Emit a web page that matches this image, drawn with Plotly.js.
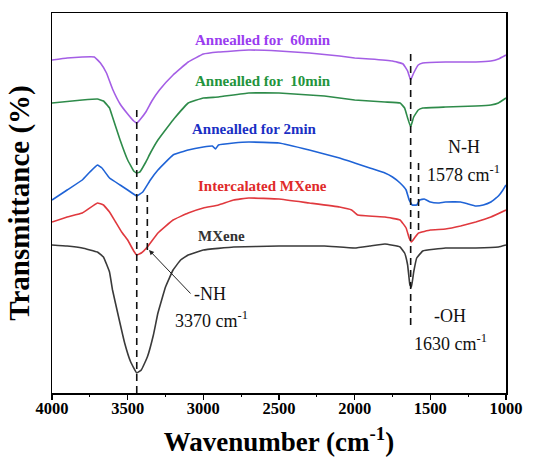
<!DOCTYPE html>
<html><head><meta charset="utf-8">
<script src="https://cdn.plot.ly/plotly-3.0.1.min.js"></script>
<style>body{margin:0;background:#fff}#chart{width:543px;height:457px}</style>
</head><body><div id="chart"></div>
<script>
// Wavenumber (cm-1) and stacked transmittance (arb. units, offset)
const wn60 = [4000,3900,3800,3720,3680,3640,3600,3550,3500,3460,3440,3420,3380,3340,3290,3200,3100,3000,2900,2700,2500,2300,2100,2000,1900,1750,1680,1650,1630,1610,1580,1550,1400,1200,1100,1050,1000];
const t60  = [331,333,334,334,328,318,302,287,277,270,268,271,279,290,301,316,329,337,339,341,340,338,335,333,332,330,327,320,311,318,326,328,329,329,330,332,336];

const wn10 = [4000,3800,3700,3660,3620,3600,3550,3500,3460,3440,3420,3380,3350,3300,3200,3100,3000,2900,2700,2500,2400,2200,2000,1800,1700,1670,1650,1630,1610,1580,1550,1400,1200,1100,1050,1000];
const t10  = [288,291,292,290,283,274,251,231,220,218,219,229,238,251,271,288,293,294,298,298,297,295,291,289,288,283,273,264,274,281,283,284,285,286,288,293];

const wn2 = [4000,3900,3800,3750,3700,3670,3620,3550,3500,3440,3400,3350,3300,3200,3100,3000,2940,2920,2900,2800,2700,2500,2300,2100,2000,1900,1800,1750,1700,1660,1640,1620,1590,1570,1540,1500,1450,1400,1300,1250,1200,1150,1100,1050,1020,1000];
const t2  = [191,201,211,219,226,223,213,206,201,195,199,211,221,236,241,244,245,242,246,248,249,248,241,233,228,223,218,214,208,201,191,186,186,191,192,189,188,189,189,187,185,186,189,195,201,206];

const wnInt = [4000,3900,3800,3700,3660,3620,3580,3540,3500,3460,3440,3410,3370,3300,3200,3100,3000,2900,2800,2700,2500,2300,2100,2020,1980,1800,1700,1660,1640,1625,1600,1578,1500,1400,1300,1200,1100,1000];
const tInt  = [169,174,178,188,186,179,169,159,151,140,136,138,144,158,171,178,183,186,191,193,192,188,184,181,176,174,171,163,153,149,154,158,161,162,165,169,174,181];

const wnMX = [4000,3900,3800,3700,3660,3620,3600,3560,3520,3480,3440,3410,3370,3330,3300,3250,3200,3150,3100,3000,2800,2500,2200,2000,1900,1800,1700,1670,1650,1635,1625,1610,1590,1550,1400,1200,1050,1000];
const tMX  = [146,145,143,139,134,119,101,74,48,29,18,21,34,56,78,104,121,131,136,141,144,145,145,143,145,147,144,138,126,106,104,119,133,140,143,143,144,146];

const seriesNames = ["Annealled for  60min","Annealled for  10min","Annealled for 2min","Intercalated MXene","MXene"];
const lineColors = ["#a45ee5","#2e8b4a","#1f63d6","#e0393e","#3a3a3a"];
const labelColors = ["#9a3cf0","#23943c","#1a2fc4","#e02a2a","#333333"];
const xTickVals = [4000,3500,3000,2500,2000,1500,1000];

// reference band positions
const bandLines = [
  {x:3440, y0:-2,  y1:286},
  {x:3370, y0:141, y1:196},
  {x:1630, y0:66,  y1:338},
  {x:1578, y0:161, y1:228}
];

const xs = [wn60,wn10,wn2,wnInt,wnMX];
const ys = [t60,t10,t2,tInt,tMX];
const traces = xs.map((x,i)=>({
  x:x, y:ys[i], type:'scatter', mode:'lines', name:seriesNames[i],
  line:{color:lineColors[i], width:1.6, shape:'spline', smoothing:0.25},
  showlegend:false, hoverinfo:'skip'
}));

const serif = "Liberation Serif, Times New Roman, serif";
const labelPos = [[2606,351],[2606,310],[2659,262],[2612,205],[2877,155]];
const annotations = seriesNames.map((n,i)=>({
  x:labelPos[i][0], y:labelPos[i][1], xref:'x', yref:'y', text:'<b>'+n+'</b>',
  showarrow:false, font:{family:serif, size:15, color:labelColors[i]}
}));
const bandText = [
  ["-NH",2956,97],["3370 cm<sup>-1</sup>",2943,72],
  ["N-H",1277,244],["1578 cm<sup>-1</sup>",1284,218],
  ["-OH",1370,75],["1630 cm<sup>-1</sup>",1370,49]
];
bandText.forEach(b=>annotations.push({x:b[1],y:b[2],xref:'x',yref:'y',text:b[0],showarrow:false,
  font:{family:serif,size:18,color:'#111'}}));
annotations.push({x:3359,y:141,ax:3075,ay:96,xref:'x',yref:'y',axref:'x',ayref:'y',text:'',
  showarrow:true,arrowhead:2,arrowsize:1,arrowwidth:1,arrowcolor:'#222'});

const shapes = bandLines.map(b=>({type:'line',xref:'x',yref:'y',x0:b.x,x1:b.x,y0:b.y0,y1:b.y1,
  line:{color:'#111',width:1.6,dash:'7px,5px'}}));

const layout = {
  width:543, height:457,
  margin:{l:52,r:37,t:13,b:64},
  paper_bgcolor:'#fff', plot_bgcolor:'#fff',
  xaxis:{range:[4000,1000], tickvals:xTickVals, ticks:'outside', ticklen:5, tickwidth:1.3, tickcolor:'#000',
    ticklabelstandoff:-5,
    minor:{dtick:250, tick0:1000, ticks:'outside', ticklen:2.5, tickwidth:1, tickcolor:'#000'},
    showline:true, linecolor:'#000', linewidth:1.5, mirror:true, showgrid:false, zeroline:false,
    tickfont:{family:serif, size:16.5, color:'#000', weight:'bold'},
    title:{text:'<b>Wavenumber (cm<sup>-1</sup>)</b>', font:{family:serif,size:27,color:'#000'}, standoff:16}},
  yaxis:{range:[-2,378], showticklabels:false, ticks:'', showline:true, linecolor:'#000', linewidth:1.5, mirror:true,
    showgrid:false, zeroline:false,
    title:{text:'<b>Transmittance (%)</b>', font:{family:serif,size:29,color:'#000'}, standoff:12}},
  annotations:annotations, shapes:shapes
};
Plotly.newPlot('chart', traces, layout, {staticPlot:true, displayModeBar:false});
</script></body></html>
